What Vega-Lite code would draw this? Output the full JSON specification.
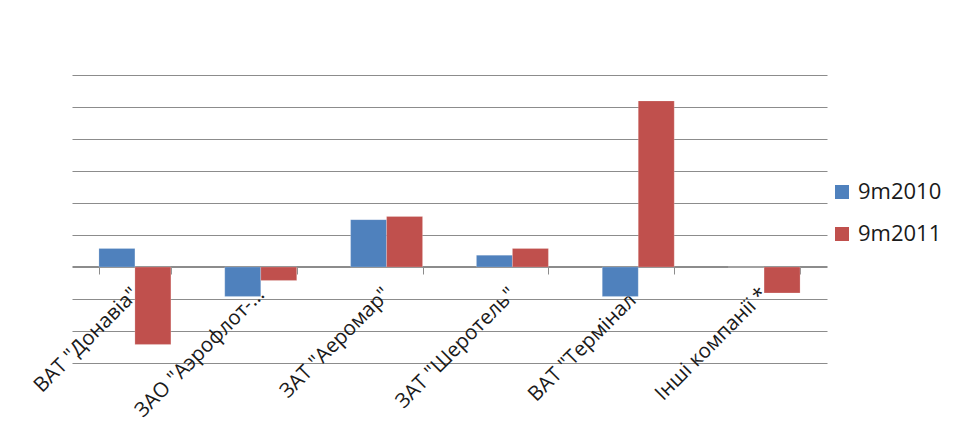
{
  "$schema": "https://vega.github.io/schema/vega-lite/v6.json",
  "autosize": {"type": "none"},
  "padding": {"left": 72, "top": 75, "right": 131, "bottom": 60},
  "width": 755,
  "height": 288,
  "background": "#ffffff",
  "data": {
    "values": [
      {"company": "ВАТ \"Донавіа\"", "series": "9m2010", "value": 0.58},
      {"company": "ВАТ \"Донавіа\"", "series": "9m2011", "value": -2.42},
      {"company": "ЗАО \"Аэрофлот-…", "series": "9m2010", "value": -0.92},
      {"company": "ЗАО \"Аэрофлот-…", "series": "9m2011", "value": -0.42},
      {"company": "ЗАТ \"Аеромар\"", "series": "9m2010", "value": 1.48},
      {"company": "ЗАТ \"Аеромар\"", "series": "9m2011", "value": 1.58},
      {"company": "ЗАТ \"Шеротель\"", "series": "9m2010", "value": 0.37},
      {"company": "ЗАТ \"Шеротель\"", "series": "9m2011", "value": 0.58},
      {"company": "ВАТ \"Термінал\"", "series": "9m2010", "value": -0.92},
      {"company": "ВАТ \"Термінал\"", "series": "9m2011", "value": 5.19},
      {"company": "Інші компанії *", "series": "9m2010", "value": 0},
      {"company": "Інші компанії *", "series": "9m2011", "value": -0.81}
    ]
  },
  "mark": {"type": "bar", "stroke": "#ffffff", "strokeOpacity": 0.35, "strokeWidth": 0.6},
  "encoding": {
    "x": {
      "field": "company",
      "type": "nominal",
      "sort": null,
      "title": null,
      "scale": {"paddingInner": 0.428, "paddingOuter": 0.214},
      "axis": {
        "orient": "bottom",
        "offset": -97,
        "domainColor": "#8c8c8c",
        "domainWidth": 1.2,
        "tickColor": "#8c8c8c",
        "tickSize": 8,
        "tickBand": "extent",
        "labelAngle": -45,
        "labelAlign": "right",
        "labelBaseline": "middle",
        "labelPadding": 17,
        "labelFont": "Open Sans",
        "labelFontSize": 20.5,
        "labelColor": "#1a1a1a",
        "labelLimit": 300,
        "labelOverlap": false
      }
    },
    "xOffset": {"field": "series", "type": "nominal", "scale": {"paddingInner": 0, "paddingOuter": 0}},
    "y": {
      "field": "value",
      "type": "quantitative",
      "title": null,
      "scale": {"domain": [-3, 6], "nice": false, "zero": true},
      "axis": {
        "values": [-3, -2, -1, 0, 1, 2, 3, 4, 5, 6],
        "labels": false,
        "ticks": false,
        "domain": false,
        "grid": true,
        "gridColor": "#8c8c8c",
        "gridWidth": 1.1
      }
    },
    "color": {
      "field": "series",
      "type": "nominal",
      "title": null,
      "scale": {"domain": ["9m2010", "9m2011"], "range": ["#4f81bd", "#c0504d"]},
      "legend": {
        "orient": "none",
        "legendX": 759,
        "legendY": 106,
        "symbolType": "square",
        "symbolSize": 196,
        "symbolStrokeWidth": 0,
        "labelFont": "Open Sans",
        "labelFontSize": 22,
        "labelColor": "#1a1a1a",
        "rowPadding": 20,
        "labelOffset": 5
      }
    }
  },
  "config": {"view": {"stroke": null}}
}
